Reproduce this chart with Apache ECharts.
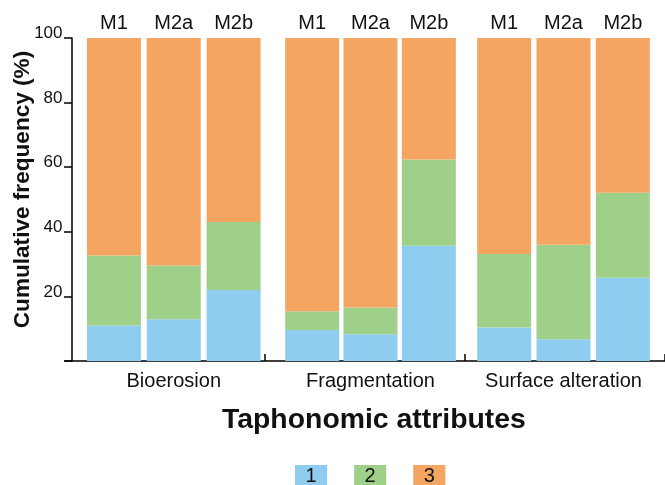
<!DOCTYPE html>
<html><head><meta charset="utf-8">
<script src="https://cdn.jsdelivr.net/npm/echarts@6/dist/echarts.min.js"></script>
<style>html,body{margin:0;padding:0;background:#fff}#c{width:665px;height:485px}</style>
</head><body><div id="c"></div>
<script>
// ---- data ----
const groups = ['Bioerosion', 'Fragmentation', 'Surface alteration'];
const sites = ['M1', 'M2a', 'M2b'];
const levels = ['1', '2', '3'];
// percentages; order: Bioerosion M1,M2a,M2b | Fragmentation M1,M2a,M2b | Surface alteration M1,M2a,M2b
const level1 = [11.0, 12.9, 22.0, 9.6, 8.3, 35.7, 10.4, 6.7, 25.8];
const level2 = [21.7, 16.7, 21.0, 5.8, 8.3, 26.7, 22.7, 29.3, 26.3];
const level3 = [67.3, 70.4, 57.0, 84.6, 83.4, 37.6, 66.9, 64.0, 47.9];
const yTickLabels = ['', '20', '40', '60', '80', '100'];

// ---- styles ----
const FONT = '"Liberation Sans", Arial, Helvetica, sans-serif';
const colors = ['#8ecdf0', '#9ed089', '#f4a561'];
const levelData = [level1, level2, level3];
const TOP = 38, BOTTOM = 124;
const groupGrids = [
  {left: 84, width: 179.5},
  {left: 283, width: 175},
  {left: 474.5, width: 178}
];
const axisStyle = {color: '#000', width: 1.5};

const grid = [{left: 65, right: 0, top: TOP, bottom: BOTTOM, outerBoundsMode: 'none', containLabel: false}]
  .concat(groupGrids.map(g => ({left: g.left, width: g.width, top: TOP, bottom: BOTTOM,
                                outerBoundsMode: 'none', containLabel: false})));

const xAxis = [{
  gridIndex: 0, type: 'category', data: groups,
  axisLine: {show: true, lineStyle: axisStyle},
  axisTick: {show: true, inside: true, length: 7, lineStyle: axisStyle,
             interval: (i) => i === 1 || i === 2},
  axisLabel: {show: false}
}];
groups.forEach((name, g) => {
  xAxis.push({
    gridIndex: g + 1, type: 'category', data: sites, position: 'top',
    axisLine: {show: false}, axisTick: {show: false},
    axisLabel: {fontSize: 20, color: '#111', fontFamily: FONT, margin: 5}
  });
});
groups.forEach((name, g) => {
  xAxis.push({
    gridIndex: g + 1, type: 'category', data: sites, position: 'bottom',
    axisLine: {show: false}, axisTick: {show: false}, axisLabel: {show: false},
    name: name, nameLocation: 'middle', nameGap: 10,
    nameTextStyle: {fontSize: 20, color: '#111', fontFamily: FONT}
  });
});

const yAxis = [{
  gridIndex: 0, type: 'value', min: 0, max: 100, interval: 20, offset: -7,
  axisLine: {show: true, lineStyle: axisStyle},
  axisTick: {show: true, length: 8, lineStyle: axisStyle},
  splitLine: {show: false},
  axisLabel: {fontSize: 17, color: '#111', fontFamily: FONT, margin: 9.5,
              verticalAlign: 'bottom', lineHeight: 9,
              formatter: v => yTickLabels[Math.round(v / 20)]},
  name: 'Cumulative frequency (%)', nameLocation: 'middle', nameGap: 38, nameRotate: 90,
  nameMoveOverlap: false,
  nameTextStyle: {fontSize: 22.6, fontWeight: 'bold', color: '#111', fontFamily: FONT,
                  padding: [0, 0, 0, 20]}
}];
groups.forEach((n, g) => {
  yAxis.push({gridIndex: g + 1, type: 'value', min: 0, max: 100, show: false});
});

const series = [];
groups.forEach((n, g) => {
  levels.forEach((lv, l) => {
    series.push({
      type: 'bar', name: lv, xAxisIndex: 1 + g, yAxisIndex: 1 + g,
      stack: 'grp' + g, barWidth: 54,
      itemStyle: {color: colors[l]},
      data: levelData[l].slice(g * 3, g * 3 + 3)
    });
  });
});

const chart = echarts.init(document.getElementById('c'), null, {renderer: 'canvas'});
chart.setOption({
  animation: false,
  backgroundColor: '#fff',
  title: {text: 'Taphonomic attributes', left: 222, top: 406, padding: 0,
          textStyle: {fontSize: 28.4, fontWeight: 'bold', color: '#111', fontFamily: FONT}},
  legend: {
    left: 290, top: 465, padding: 0, itemWidth: 0, itemHeight: 0, itemGap: 22,
    selectedMode: false, icon: 'rect',
    data: levels.map((lv, i) => ({
      name: lv,
      textStyle: {backgroundColor: colors[i], padding: [0, 10.5, 0, 10.5], lineHeight: 22,
                  fontSize: 20, color: '#111', fontFamily: FONT}
    }))
  },
  grid: grid, xAxis: xAxis, yAxis: yAxis, series: series
});
</script></body></html>
